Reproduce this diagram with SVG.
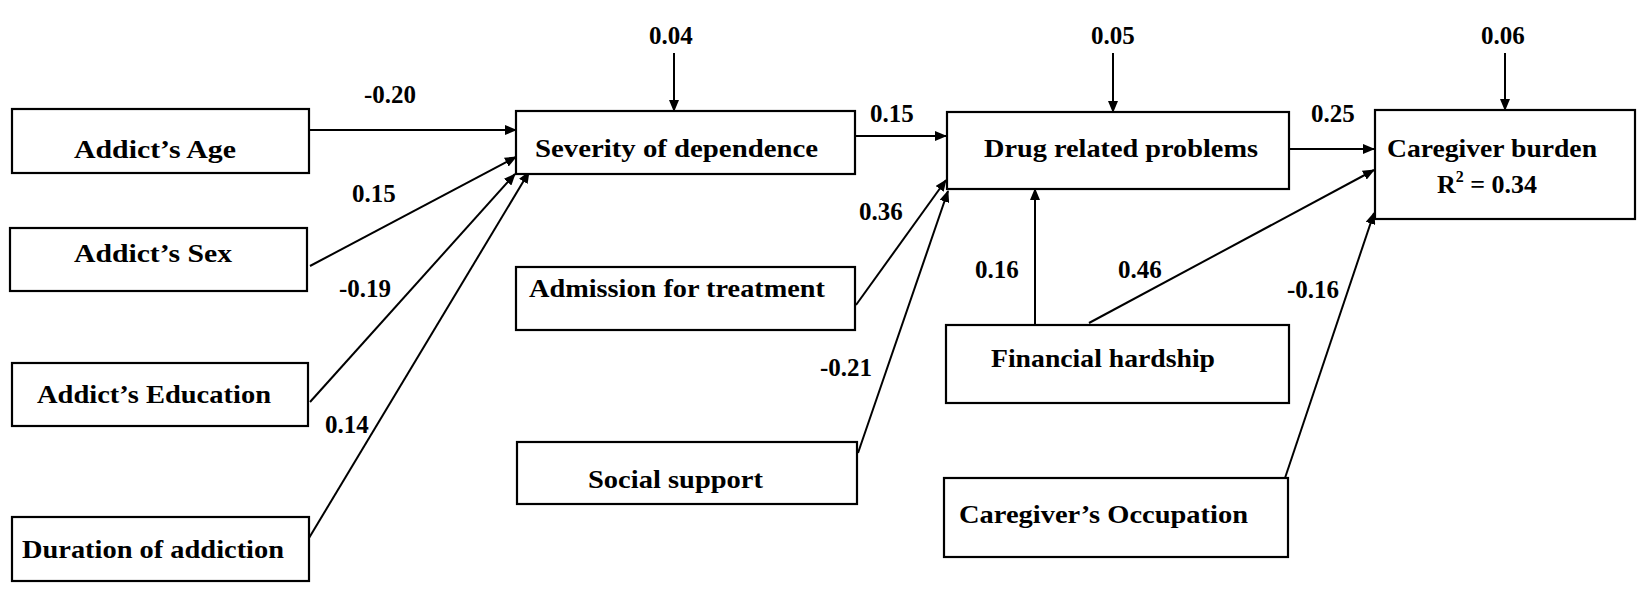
<svg xmlns="http://www.w3.org/2000/svg" width="1639" height="591" viewBox="0 0 1639 591">
<style>
.box{fill:#fff;stroke:#000;stroke-width:2.2}
.t{font-family:"Liberation Serif","Times New Roman",serif;font-weight:bold;font-size:26px;fill:#000}
.lb{font-family:"Liberation Serif","Times New Roman",serif;font-weight:bold;font-size:25px;fill:#000}
.c{stroke:#000;stroke-width:2;fill:none;marker-end:url(#ah)}
</style>
<defs>
<marker id="ah" markerUnits="userSpaceOnUse" markerWidth="12" markerHeight="10" refX="11" refY="5" orient="auto">
<path d="M0,0 L12,5 L0,10 z" fill="#000"/>
</marker>
</defs>
<rect width="1639" height="591" fill="#fff"/>
<g id="connectors">
<line class="c" x1="309" y1="130" x2="516" y2="130"/>
<line class="c" x1="310" y1="266" x2="516" y2="157"/>
<line class="c" x1="310" y1="402" x2="515" y2="174"/>
<line class="c" x1="309" y1="538" x2="529" y2="172"/>
<line class="c" x1="674" y1="53" x2="674" y2="111"/>
<line class="c" x1="855" y1="136" x2="946" y2="136"/>
<line class="c" x1="856" y1="305" x2="946" y2="180"/>
<line class="c" x1="858" y1="453" x2="948" y2="191"/>
<line class="c" x1="1113" y1="53" x2="1113" y2="112"/>
<line class="c" x1="1035" y1="325" x2="1035" y2="189"/>
<line class="c" x1="1283" y1="149" x2="1374" y2="149"/>
<line class="c" x1="1089" y1="323" x2="1374" y2="170"/>
<line class="c" x1="1285" y1="478" x2="1374" y2="213"/>
<line class="c" x1="1505" y1="53" x2="1505" y2="110"/>
</g>
<g id="labels">
<text class="lb" x="364" y="103">-0.20</text>
<text class="lb" x="352" y="202">0.15</text>
<text class="lb" x="339" y="297">-0.19</text>
<text class="lb" x="325" y="433">0.14</text>
<text class="lb" x="649" y="44">0.04</text>
<text class="lb" x="870" y="122">0.15</text>
<text class="lb" x="859" y="220">0.36</text>
<text class="lb" x="820" y="376">-0.21</text>
<text class="lb" x="975" y="278">0.16</text>
<text class="lb" x="1091" y="44">0.05</text>
<text class="lb" x="1311" y="122">0.25</text>
<text class="lb" x="1118" y="278">0.46</text>
<text class="lb" x="1287" y="298">-0.16</text>
<text class="lb" x="1481" y="44">0.06</text>
</g>
<g id="age"><rect class="box" x="12" y="109" width="297" height="64"/><text class="t" x="74" y="158" textLength="162" lengthAdjust="spacingAndGlyphs">Addict’s Age</text></g>
<g id="sex"><rect class="box" x="10" y="228" width="297" height="63"/><text class="t" x="74" y="262" textLength="158" lengthAdjust="spacingAndGlyphs">Addict’s Sex</text></g>
<g id="education"><rect class="box" x="12" y="363" width="296" height="63"/><text class="t" x="37" y="403" textLength="234" lengthAdjust="spacingAndGlyphs">Addict’s Education</text></g>
<g id="duration"><rect class="box" x="12" y="517" width="297" height="64"/><text class="t" x="22" y="558" textLength="262" lengthAdjust="spacingAndGlyphs">Duration of addiction</text></g>
<g id="severity"><rect class="box" x="516" y="111" width="339" height="63"/><text class="t" x="535" y="157" textLength="283" lengthAdjust="spacingAndGlyphs">Severity of dependence</text></g>
<g id="admission"><rect class="box" x="516" y="267" width="339" height="63"/><text class="t" x="529" y="297" textLength="296" lengthAdjust="spacingAndGlyphs">Admission for treatment</text></g>
<g id="social"><rect class="box" x="517" y="442" width="340" height="62"/><text class="t" x="588" y="488" textLength="175" lengthAdjust="spacingAndGlyphs">Social support</text></g>
<g id="drug"><rect class="box" x="947" y="112" width="342" height="77"/><text class="t" x="984" y="157" textLength="274" lengthAdjust="spacingAndGlyphs">Drug related problems</text></g>
<g id="financial"><rect class="box" x="946" y="325" width="343" height="78"/><text class="t" x="991" y="367" textLength="224" lengthAdjust="spacingAndGlyphs">Financial hardship</text></g>
<g id="occupation"><rect class="box" x="944" y="478" width="344" height="79"/><text class="t" x="959" y="523" textLength="289" lengthAdjust="spacingAndGlyphs">Caregiver’s Occupation</text></g>
<g id="caregiver"><rect class="box" x="1375" y="110" width="260" height="109"/><text class="t" x="1387" y="157" textLength="210" lengthAdjust="spacingAndGlyphs">Caregiver burden</text><text class="t" x="1437" y="193">R<tspan font-size="16" dy="-11">2</tspan><tspan dy="11"> = 0.34</tspan></text></g>
</svg>
